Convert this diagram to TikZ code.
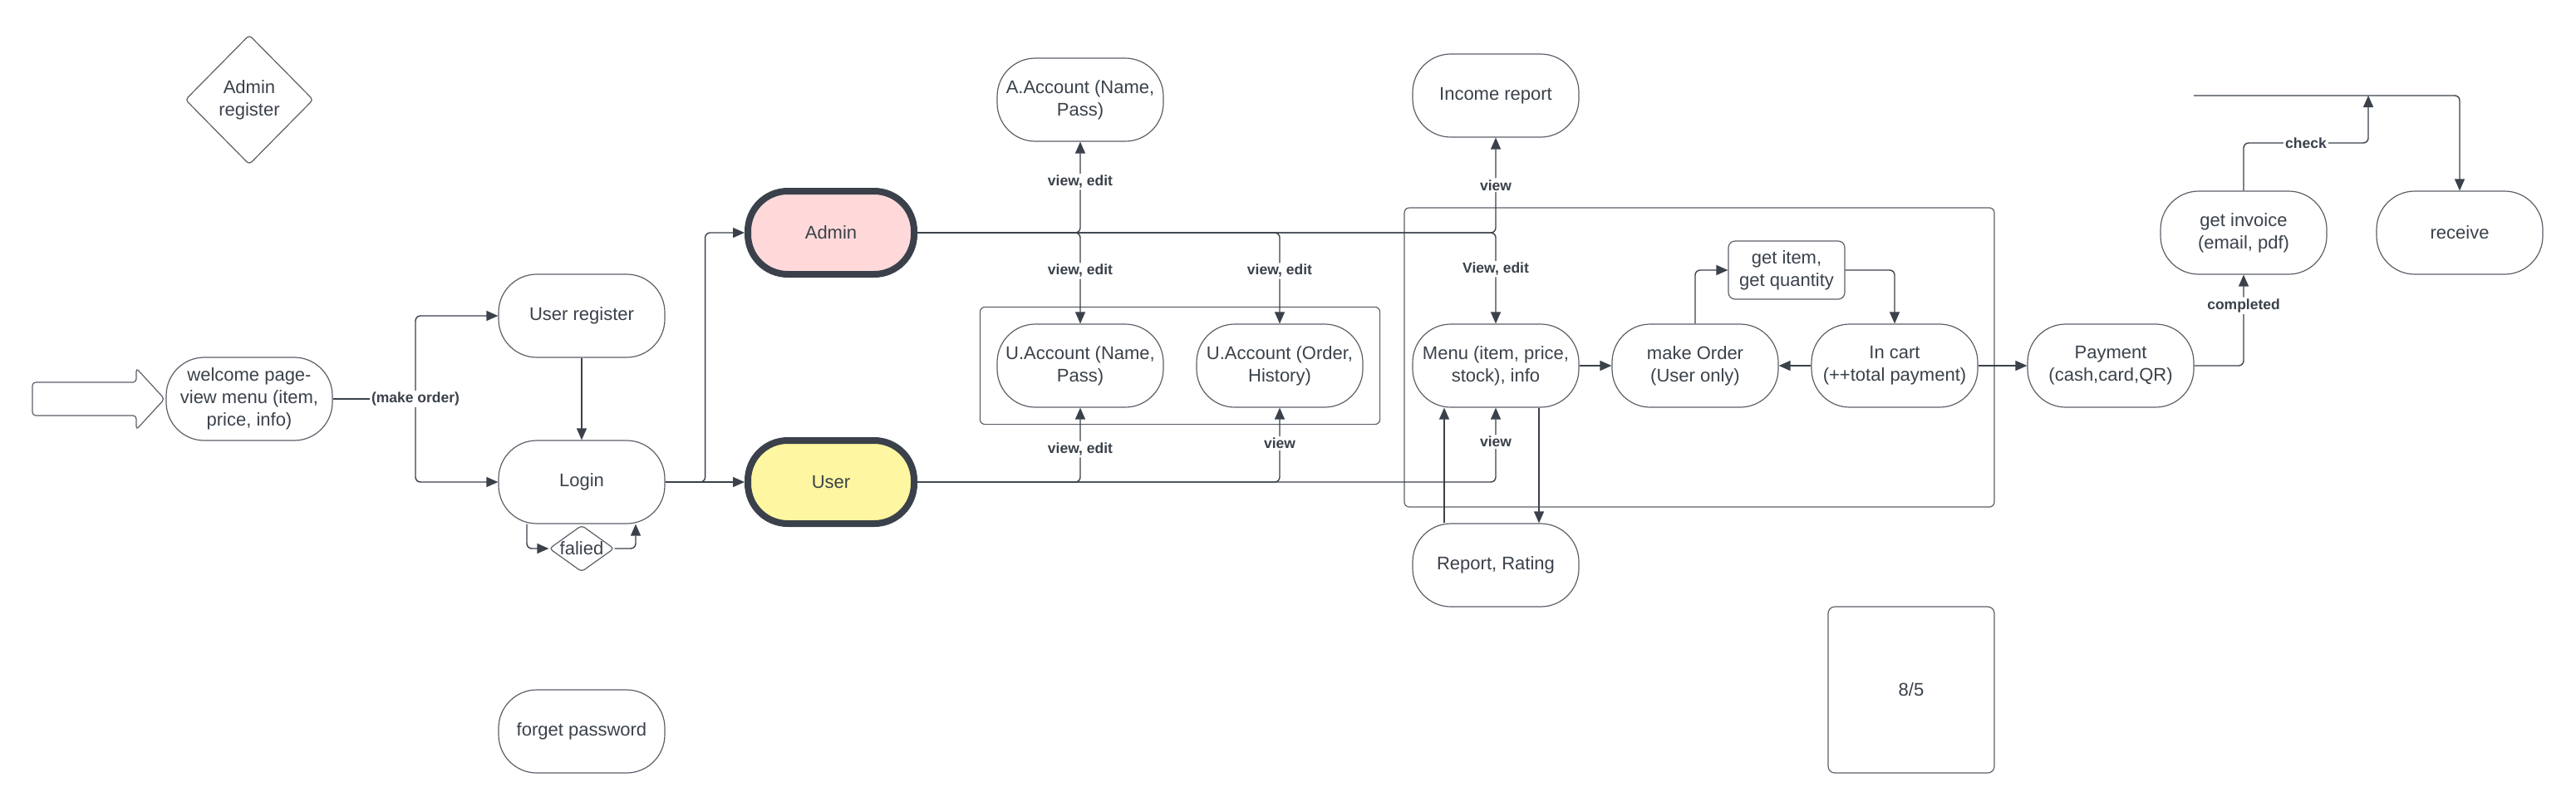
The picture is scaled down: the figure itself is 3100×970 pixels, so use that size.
\documentclass[tikz,border=0pt]{standalone}
\usepackage{fontspec}
\setmainfont{Liberation Sans}
\usetikzlibrary{arrows.meta,shapes.geometric,fit}
\definecolor{ink}{HTML}{3A414A}
\definecolor{edge}{HTML}{5A6068}
\definecolor{adminpink}{HTML}{FFD9DA}
\definecolor{useryellow}{HTML}{FFF6A1}

\begin{document}
\begin{tikzpicture}[x=0.5pt,y=-0.5pt,
    stadium/.style={draw=edge,line width=0.6pt,rounded corners=23pt,minimum width=100pt,minimum height=50pt,
      align=center,inner sep=2pt,text=ink,font=\fontsize{11}{13.5}\selectfont},
    actor/.style={stadium,draw=ink,line width=4pt,rounded corners=24pt},
    decision/.style={diamond,draw=edge,line width=0.6pt,rounded corners=2pt,align=center,inner sep=0pt,
      text=ink,font=\fontsize{11}{13.5}\selectfont},
    group/.style={draw=edge,line width=0.6pt,rounded corners=3pt,inner sep=0pt},
    flow/.style={draw=ink,line width=0.7pt,rounded corners=3pt,-{Triangle[length=7pt,width=6pt]}},
    lbl/.style={fill=white,inner sep=1pt,text=ink,font=\bfseries\fontsize{8.75}{10}\selectfont}]
    \useasboundingbox (0,0) rectangle (3100,970);

    \draw[edge,line width=0.6pt,rounded corners=2pt] (39,460) -- (164,460) -- (164,443) -- (198,480)
      -- (164,517) -- (164,500) -- (39,500) -- cycle;

    \node[decision,minimum width=77pt,minimum height=78pt] (adreg) at (300,120) {Admin\\register};
    \node[stadium] (welcome) at (300,480) {welcome page-\\view menu (item,\\price, info)};
    \node[stadium] (ureg) at (700,380) {User register};
    \node[stadium] (login) at (700,580) {Login};
    \node[decision,aspect=1.4,minimum width=39pt,minimum height=28pt] (failed) at (700,660) {falied};
    \node[stadium] (forgot) at (700,880) {forget password};
    \node[actor,fill=adminpink] (admin) at (1000,280) {Admin};
    \node[actor,fill=useryellow] (user) at (1000,580) {User};
    \node[stadium] (aacc) at (1300,120) {A.Account (Name,\\Pass)};
    \node[stadium] (uname) at (1300,440) {U.Account (Name,\\Pass)};
    \node[stadium] (uorder) at (1540,440) {U.Account (Order,\\History)};
    \node[group,fit=(uname)(uorder),inner sep=10pt] (ubox) {};
    \node[stadium] (income) at (1800,115) {Income report};
    \node[stadium] (menu) at (1800,440) {Menu (item, price,\\stock), info};
    \node[stadium] (order) at (2040,440) {make Order\\(User only)};
    \node[stadium] (cart) at (2280,440) {In cart\\(++total payment)};
    \node[stadium,rounded corners=4pt,minimum width=70pt,minimum height=35pt] (getitem) at (2150,325) {get item,\\get quantity};
    \node[group,minimum width=355pt,minimum height=180pt] (orderbox) at (2045,430) {};
    \node[stadium] (report) at (1800,680) {Report, Rating};
    \node[stadium,rounded corners=4pt,minimum height=100pt] (datebox) at (2300,830) {8/5};
    \node[stadium] (payment) at (2540,440) {Payment\\(cash,card,QR)};
    \node[stadium] (invoice) at (2700,280) {get invoice\\(email, pdf)};
    \node[stadium] (receive) at (2960,280) {receive};

    \coordinate (fork) at (500,480);
    \coordinate (chkstart) at (2640,115);
    \coordinate (chkjoin) at (2850,115);
    \coordinate (chkbend) at (2850,172);

    \draw[flow,-] (welcome) -- (fork);
    \draw[flow] (fork) |- (ureg);
    \draw[flow] (fork) |- (login);
    \node[lbl] (mkorder) at (fork) {(make order)};
    \draw[flow] (ureg) -- (login);
    \draw[flow] ([xshift=-33pt]login.south) |- (failed);
    \draw[flow] (failed) -| ([xshift=32.5pt]login.south);
    \draw[flow] (login) -- (user);
    \draw[flow] (login.east) -- ++(48,0) |- (admin);

    \draw[flow] (admin) -| node[lbl,pos=0.78] (ladacc) {view, edit} (aacc);
    \draw[flow] (admin) -| node[lbl,pos=0.71] (laduname) {view, edit} (uname);
    \draw[flow] (admin) -| node[lbl,pos=0.71] (laduorder) {view, edit} (uorder);
    \draw[flow] (admin) -| node[lbl,pos=0.70] (ladmenu) {View, edit} (menu);
    \draw[flow] (admin) -| node[lbl,pos=0.75] (ladincome) {view} (income);
    \draw[flow] (user) -| node[lbl,pos=0.72] (lusuname) {view, edit} (uname);
    \draw[flow] (user) -| node[lbl,pos=0.76] (lusuorder) {view} (uorder);
    \draw[flow] (user) -| node[lbl,pos=0.77] (lusmenu) {view} (menu);

    \draw[flow] (menu) -- (order);
    \draw[flow] (cart) -- (order);
    \draw[flow] (order) |- (getitem);
    \draw[flow] (getitem) -| (cart);
    \draw[flow] (cart) -- (payment);
    \draw[flow] ([xshift=-31pt]report.north) -- ([xshift=-31pt]menu.south);
    \draw[flow] ([xshift=26pt]menu.south) -- ([xshift=26pt]report.north);

    \draw[flow] (payment) -| node[lbl,pos=0.83] (lcompleted) {completed} (invoice);
    \draw[flow] (invoice) |- node[lbl,pos=0.75] (lcheck) {check} (chkbend) -- (chkjoin);
    \draw[flow] (chkstart) -| (receive);
\end{tikzpicture}
\end{document}
